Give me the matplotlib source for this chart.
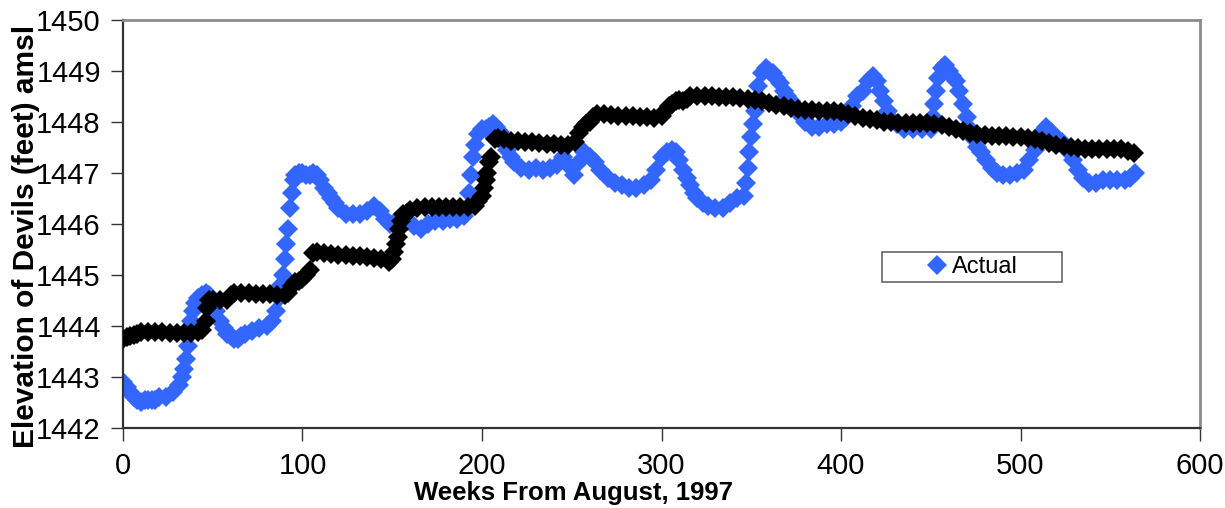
import matplotlib
matplotlib.use("Agg")
import matplotlib.pyplot as plt
from matplotlib.patches import Rectangle

plt.rcParams['font.family'] = ['Liberation Sans', 'DejaVu Sans']

# ---- data ----
actual_weeks = [0, 2, 4, 6, 8, 10, 12, 14, 16, 18, 20, 24, 28, 31, 33, 34, 35, 36, 37, 38, 39, 40,
                42, 44, 46, 48, 50, 52, 54, 56, 58, 60, 62, 64, 66, 68, 72, 76, 80, 83, 85, 87, 88,
                89, 90, 91, 92, 93, 94, 95, 96, 98, 100, 102, 104, 106, 108, 110, 112, 114, 116,
                118, 120, 124, 128, 132, 136, 140, 143, 146, 149, 152, 155, 158, 162, 166, 170,
                174, 178, 182, 186, 190, 192, 193, 194, 195, 196, 198, 200, 202, 204, 206, 208,
                210, 212, 214, 216, 218, 222, 226, 230, 234, 238, 242, 245, 248, 251, 254, 257,
                260, 263, 266, 270, 274, 278, 282, 286, 290, 294, 297, 300, 303, 306, 308, 310,
                312, 314, 316, 318, 320, 323, 326, 330, 334, 338, 342, 346, 347, 348, 349, 350,
                351, 352, 353, 354, 356, 358, 360, 362, 364, 366, 368, 370, 372, 374, 376, 378,
                380, 384, 388, 392, 396, 400, 403, 406, 409, 412, 415, 418, 420, 422, 424, 426,
                428, 431, 435, 440, 445, 450, 451, 452, 453, 454, 456, 458, 460, 462, 464, 466,
                468, 470, 472, 474, 476, 478, 481, 484, 487, 490, 494, 498, 502, 505, 508, 511,
                514, 517, 520, 523, 526, 529, 532, 535, 538, 542, 546, 550, 554, 558, 561, 564]
actual_elev = [1442.9, 1442.8, 1442.7, 1442.6, 1442.55, 1442.5, 1442.55, 1442.55, 1442.55, 1442.55,
               1442.6, 1442.6, 1442.7, 1442.85, 1443.0, 1443.15, 1443.35, 1443.6, 1443.85, 1444.1,
               1444.3, 1444.45, 1444.55, 1444.6, 1444.65, 1444.6, 1444.45, 1444.3, 1444.1, 1443.95,
               1443.85, 1443.8, 1443.75, 1443.75, 1443.8, 1443.85, 1443.9, 1443.95, 1444.0, 1444.1,
               1444.3, 1444.55, 1444.8, 1445.0, 1445.3, 1445.6, 1445.9, 1446.3, 1446.6, 1446.85,
               1446.95, 1447.0, 1447.0, 1446.95, 1446.95, 1447.0, 1446.95, 1446.85, 1446.7, 1446.6,
               1446.5, 1446.4, 1446.3, 1446.2, 1446.2, 1446.2, 1446.25, 1446.35, 1446.25, 1446.1,
               1446.0, 1446.05, 1446.1, 1446.05, 1445.95, 1445.9, 1446.0, 1446.05, 1446.05, 1446.1,
               1446.1, 1446.15, 1446.3, 1446.6, 1446.95, 1447.3, 1447.55, 1447.75, 1447.85, 1447.85,
               1447.9, 1447.95, 1447.9, 1447.8, 1447.6, 1447.45, 1447.3, 1447.2, 1447.1, 1447.05,
               1447.1, 1447.05, 1447.1, 1447.15, 1447.3, 1447.15, 1446.95, 1447.2, 1447.4, 1447.3,
               1447.2, 1447.05, 1446.9, 1446.8, 1446.75, 1446.7, 1446.7, 1446.75, 1446.85, 1447.05,
               1447.3, 1447.4, 1447.45, 1447.4, 1447.25, 1447.05, 1446.9, 1446.75, 1446.6, 1446.5,
               1446.4, 1446.35, 1446.3, 1446.3, 1446.4, 1446.5, 1446.55, 1446.8, 1447.1, 1447.4,
               1447.7, 1447.95, 1448.2, 1448.45, 1448.7, 1448.95, 1449.05, 1449.0, 1448.95, 1448.85,
               1448.75, 1448.6, 1448.5, 1448.4, 1448.3, 1448.2, 1448.1, 1448.0, 1447.9, 1447.9,
               1447.95, 1447.95, 1448.0, 1448.1, 1448.3, 1448.5, 1448.6, 1448.8, 1448.9, 1448.8,
               1448.6, 1448.4, 1448.2, 1448.05, 1447.95, 1447.85, 1447.85, 1447.85, 1447.85, 1448.1,
               1448.35, 1448.6, 1448.85, 1449.05, 1449.1, 1449.0, 1448.9, 1448.8, 1448.6, 1448.35,
               1448.1, 1447.85, 1447.65, 1447.5, 1447.4, 1447.25, 1447.1, 1447.0, 1446.95, 1446.95,
               1447.0, 1447.05, 1447.25, 1447.45, 1447.75, 1447.9, 1447.8, 1447.7, 1447.6, 1447.45,
               1447.25, 1447.05, 1446.9, 1446.8, 1446.8, 1446.85, 1446.85, 1446.85, 1446.85, 1446.9,
               1447.0]

model_weeks = [0, 2, 4, 6, 8, 10, 14, 18, 22, 26, 30, 34, 38, 42, 44, 46, 47, 48, 50, 54, 58, 60,
               62, 66, 70, 74, 78, 82, 86, 90, 92, 94, 96, 98, 100, 102, 104, 106, 108, 112, 116,
               120, 124, 128, 132, 136, 140, 144, 148, 150, 151, 152, 153, 154, 155, 156, 158, 160,
               164, 168, 172, 176, 180, 184, 188, 192, 196, 198, 200, 201, 202, 203, 204, 205, 207,
               209, 212, 216, 220, 224, 228, 232, 236, 240, 244, 248, 252, 254, 256, 258, 260, 262,
               264, 268, 272, 276, 280, 284, 288, 292, 296, 300, 302, 304, 306, 308, 310, 312, 314,
               316, 320, 324, 328, 332, 336, 340, 344, 348, 352, 356, 360, 364, 368, 372, 376, 380,
               384, 388, 392, 396, 400, 404, 408, 412, 416, 420, 424, 428, 432, 436, 440, 444, 448,
               452, 456, 460, 464, 468, 472, 476, 480, 484, 488, 492, 496, 500, 504, 508, 512, 516,
               520, 524, 528, 532, 536, 540, 544, 548, 552, 556, 560, 563]
model_elev = [1443.75, 1443.78, 1443.8, 1443.82, 1443.85, 1443.88, 1443.88, 1443.88, 1443.88,
              1443.87, 1443.87, 1443.87, 1443.87, 1443.88, 1443.92, 1444.1, 1444.35, 1444.5, 1444.5,
              1444.5, 1444.5, 1444.6, 1444.65, 1444.65, 1444.65, 1444.63, 1444.62, 1444.62, 1444.6,
              1444.6, 1444.65, 1444.78, 1444.85, 1444.88, 1444.92, 1445.0, 1445.1, 1445.42, 1445.45,
              1445.42, 1445.4, 1445.38, 1445.38, 1445.37, 1445.36, 1445.35, 1445.33, 1445.3, 1445.25,
              1445.3, 1445.45, 1445.6, 1445.75, 1445.9, 1446.05, 1446.2, 1446.22, 1446.27, 1446.3,
              1446.32, 1446.32, 1446.32, 1446.32, 1446.32, 1446.32, 1446.32, 1446.35, 1446.45,
              1446.55, 1446.7, 1446.85, 1447.0, 1447.2, 1447.3, 1447.65, 1447.68, 1447.65, 1447.63,
              1447.62, 1447.6, 1447.6, 1447.58, 1447.57, 1447.56, 1447.55, 1447.55, 1447.6, 1447.78,
              1447.9, 1447.95, 1448.0, 1448.1, 1448.15, 1448.15, 1448.13, 1448.12, 1448.12, 1448.12,
              1448.1, 1448.1, 1448.08, 1448.12, 1448.2, 1448.3, 1448.35, 1448.4, 1448.42, 1448.4,
              1448.45, 1448.5, 1448.5, 1448.5, 1448.5, 1448.48, 1448.48, 1448.48, 1448.46, 1448.44,
              1448.42, 1448.4, 1448.37, 1448.33, 1448.3, 1448.27, 1448.25, 1448.23, 1448.22, 1448.21,
              1448.2, 1448.2, 1448.18, 1448.15, 1448.12, 1448.08, 1448.05, 1448.03, 1448.0, 1448.0,
              1447.98, 1447.98, 1447.98, 1447.97, 1447.97, 1447.95, 1447.93, 1447.9, 1447.85,
              1447.82, 1447.78, 1447.75, 1447.73, 1447.72, 1447.72, 1447.71, 1447.7, 1447.7, 1447.68,
              1447.65, 1447.62, 1447.58, 1447.55, 1447.52, 1447.5, 1447.48, 1447.47, 1447.47,
              1447.47, 1447.47, 1447.47, 1447.46, 1447.43, 1447.38]

x_ticks = [0, 100, 200, 300, 400, 500, 600]
y_ticks = [1442, 1443, 1444, 1445, 1446, 1447, 1448, 1449, 1450]

# ---- figure ----
fig = plt.figure(figsize=(12.25, 5.08), dpi=100)
ax = fig.add_axes([0.1004, 0.1575, 0.8792, 0.8041])

blue = '#3366FF'
ax.plot(actual_weeks, actual_elev, linestyle='none', marker='D', markersize=10,
        color=blue, markeredgewidth=0, label='Actual', zorder=2)
ax.plot(model_weeks, model_elev, linestyle='none', marker='D', markersize=10,
        color='black', markeredgewidth=0, zorder=3)

ax.set_xlim(0, 600)
ax.set_ylim(1442, 1450)
ax.set_xticks(x_ticks)
ax.set_yticks(y_ticks)
ax.tick_params(axis='both', direction='out', length=9, width=1, color='#333333',
               labelsize=21)
ax.tick_params(axis='x', pad=8)
ax.tick_params(axis='y', pad=7)

for side in ['left', 'bottom']:
    ax.spines[side].set_color('#333333')
    ax.spines[side].set_linewidth(1.6)
for side in ['top', 'right']:
    ax.spines[side].set_color('#8c8c8c')
    ax.spines[side].set_linewidth(2)

ax.set_xlabel('Weeks From August, 1997', fontsize=18.5, fontweight='bold', labelpad=0)
ax.xaxis.set_label_coords(0.418, -0.13)
ax.set_ylabel('Elevation of Devils (feet) amsl', fontsize=21.5, fontweight='bold')
ax.yaxis.set_label_coords(-0.077, 0.47)

# legend
leg = ax.legend(loc='center', bbox_to_anchor=(0.79, 0.394), frameon=False,
                fontsize=17, handlelength=0.6, handletextpad=0.3, numpoints=1)
ax.add_patch(Rectangle((0.7047, 0.357), 0.1671, 0.0734, transform=ax.transAxes,
                       fill=False, edgecolor='#666666', linewidth=1.2, zorder=5))

fig.savefig('out.png', dpi=100)
